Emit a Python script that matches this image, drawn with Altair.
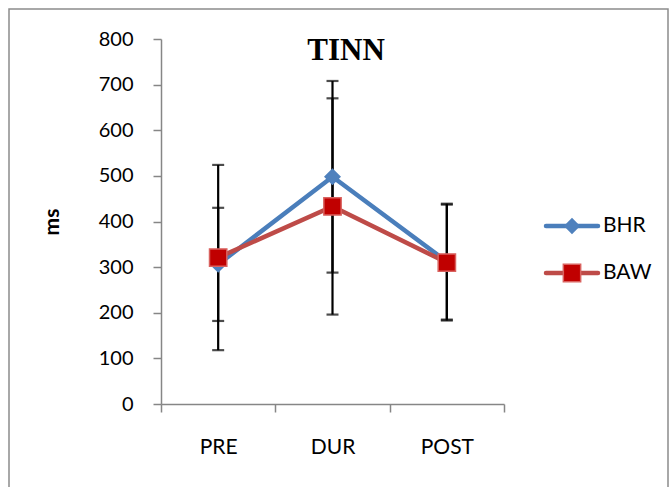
import altair as alt
import pandas as pd

periods = ["PRE", "DUR", "POST"]
series = ["BHR", "BAW"]
bhr_mean = [306, 498, 312]
bhr_err = [124, 210, 127]
baw_mean = [321, 433, 310]
baw_err = [203, 237, 127]
y_ticks = [0, 100, 200, 300, 400, 500, 600, 700, 800]

rows = []
for s, means, errs in (("BHR", bhr_mean, bhr_err), ("BAW", baw_mean, baw_err)):
    for p, m, e in zip(periods, means, errs):
        rows.append({"period": p, "series": s, "mean": m, "lo": m - e, "hi": m + e})
df = pd.DataFrame(rows)

FONT = "Lato"
BLUE_LINE = "#4A7EBB"
BLUE_MARK = "#4F81BD"
RED_LINE = "#BE4B48"
RED_FILL = "#C00000"

x_enc = alt.X("period:N", sort=periods, title=None,
              scale=alt.Scale(paddingInner=0, paddingOuter=0),
              axis=alt.Axis(labelAngle=0, labelFontSize=21, labelFont=FONT, labelColor="#000",
                            labelPadding=24, tickSize=8, tickBand="extent",
                            domainColor="#868686", tickColor="#868686", domainWidth=1.5, tickWidth=1.5))
y_scale = alt.Scale(domain=[0, 800], nice=False)
y_axis = alt.Axis(values=y_ticks, labelFontSize=20, labelFont=FONT, labelColor="#000",
                  labelPadding=20, tickSize=8, grid=False, title="ms",
                  titleFont=FONT, titleFontSize=21, titleFontWeight="bold", titleColor="#000",
                  titlePadding=36, domainColor="#868686", tickColor="#868686",
                  domainWidth=1.5, tickWidth=1.5)

base = alt.Chart(df)

color_scale = alt.Scale(domain=series, range=[BLUE_LINE, RED_LINE])

lines = base.mark_line(strokeWidth=4.5).encode(
    x=x_enc,
    y=alt.Y("mean:Q", scale=y_scale, axis=y_axis),
    color=alt.Color("series:N", scale=color_scale, legend=None),
    detail="series:N",
)

err_rule = base.mark_rule(color="black", strokeWidth=2.2).encode(
    x=alt.X("period:N", sort=periods),
    y=alt.Y("lo:Q", scale=y_scale),
    y2="hi:Q",
)
cap_lo = base.mark_tick(color="black", thickness=2.2, size=12, orient="horizontal").encode(
    x=alt.X("period:N", sort=periods),
    y=alt.Y("lo:Q", scale=y_scale),
)
cap_hi = base.mark_tick(color="black", thickness=2.2, size=12, orient="horizontal").encode(
    x=alt.X("period:N", sort=periods),
    y=alt.Y("hi:Q", scale=y_scale),
)

bhr_pts = base.transform_filter(alt.datum.series == "BHR").mark_point(
    shape="diamond", filled=True, fill=BLUE_MARK, stroke=BLUE_MARK, size=200, opacity=1
).encode(x=alt.X("period:N", sort=periods), y=alt.Y("mean:Q", scale=y_scale))

baw_pts = base.transform_filter(alt.datum.series == "BAW").mark_point(
    shape="square", filled=True, fill=RED_FILL, stroke="#D9625F", strokeWidth=1.5, size=300, opacity=1
).encode(x=alt.X("period:N", sort=periods), y=alt.Y("mean:Q", scale=y_scale))

title = alt.Chart(pd.DataFrame({"t": ["TINN"]})).mark_text(
    font="Liberation Serif", fontSize=31, fontWeight="bold", color="#000", baseline="alphabetic", align="center"
).encode(x=alt.value(185), y=alt.value(21), text="t:N")

frame = alt.Chart(pd.DataFrame({"a": [0]})).mark_rect(
    fill=None, stroke="#8C8C8C", strokeWidth=1.5
).encode(x=alt.value(-152), x2=alt.value(507), y=alt.value(-30), y2=alt.value(470))

# legend
leg_layers = []
for name, yy, lc, shape, fill, stroke, sz in (
    ("BHR", 187, BLUE_LINE, "diamond", BLUE_MARK, BLUE_MARK, 200),
    ("BAW", 234, RED_LINE, "square", RED_FILL, "#D9625F", 300),
):
    d = pd.DataFrame({"s": [name]})
    leg_layers.append(alt.Chart(d).mark_rule(color=lc, strokeWidth=4.5, strokeCap="round").encode(
        x=alt.value(385), x2=alt.value(437), y=alt.value(yy)))
    leg_layers.append(alt.Chart(d).mark_point(shape=shape, filled=True, fill=fill, stroke=stroke,
                                               strokeWidth=1.5, size=sz, opacity=1).encode(
        x=alt.value(411), y=alt.value(yy)))
    leg_layers.append(alt.Chart(d).mark_text(font=FONT, fontSize=21, color="#000", align="left",
                                              baseline="middle").encode(
        x=alt.value(442), y=alt.value(yy), text="s:N"))

chart = alt.layer(frame, lines, err_rule, cap_lo, cap_hi, bhr_pts, baw_pts, title, *leg_layers).properties(
    width=343, height=365,
    autosize=alt.AutoSizeParams(type="none"),
    padding={"left": 161, "top": 39, "right": 166, "bottom": 83},
    background="white",
).configure_view(stroke=None)

chart.save("out.html", embed_options={"renderer": "svg", "actions": False})
